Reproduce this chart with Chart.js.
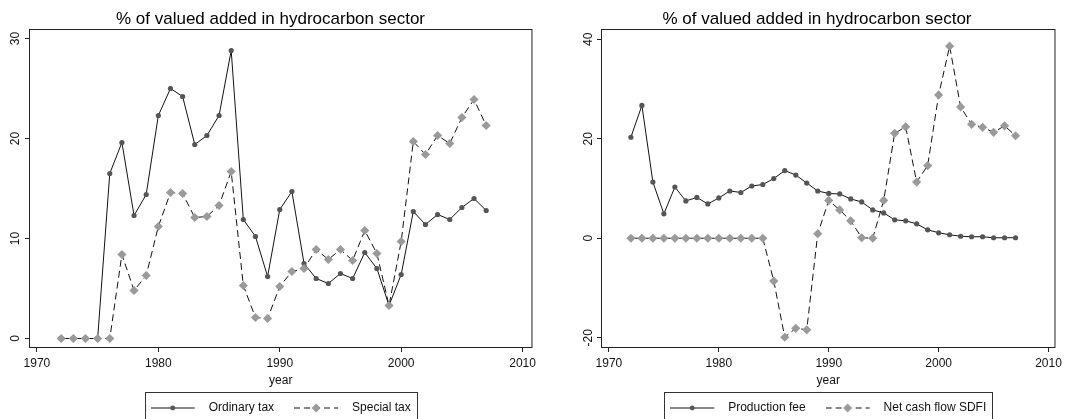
<!DOCTYPE html>
<html><head><meta charset="utf-8">
<script src="https://cdn.jsdelivr.net/npm/chart.js@4/dist/chart.umd.min.js"></script>
<style>
html,body{margin:0;padding:0;background:#fff;overflow:hidden;width:1066px;height:419px;}
#c1{position:absolute;left:0;top:0;}
#c2{position:absolute;left:540px;top:0;}
</style></head><body>
<canvas id="c1" width="540" height="424"></canvas>
<canvas id="c2" width="526" height="424"></canvas>
<script>
const years = [1972,1973,1974,1975,1976,1977,1978,1979,1980,1981,1982,1983,1984,1985,1986,1987,1988,1989,1990,1991,1992,1993,1994,1995,1996,1997,1998,1999,2000,2001,2002,2003,2004,2005,2006,2007];
const ordinaryTax = [0,0,0,0,16.5,19.6,12.3,14.4,22.3,25.0,24.2,19.4,20.3,22.3,28.8,11.9,10.2,6.2,12.9,14.7,7.5,6.0,5.5,6.5,6.0,8.6,7.0,3.3,6.4,12.7,11.4,12.4,11.9,13.1,14.0,12.8];
const specialTax = [0,0,0,0,0,8.4,4.8,6.3,11.2,14.6,14.5,12.1,12.2,13.3,16.7,5.3,2.1,2.0,5.2,6.7,7.0,8.9,7.9,8.9,7.8,10.8,8.5,3.3,9.7,19.7,18.4,20.3,19.5,22.1,23.9,21.3];
const productionFee = [20.3,26.7,11.3,4.9,10.3,7.5,8.2,6.9,8.1,9.5,9.2,10.5,10.8,12.0,13.6,12.7,11.1,9.5,9.0,8.9,7.9,7.3,5.7,5.1,3.7,3.5,2.9,1.7,1.1,0.7,0.4,0.3,0.3,0.1,0.1,0.1];
const netCashFlowSDFI = [0,0,0,0,0,0,0,0,0,0,0,0,0,-8.6,-19.9,-18.1,-18.4,0.9,7.6,5.7,3.5,0.1,0.0,7.6,21.1,22.4,11.3,14.6,28.8,38.6,26.4,22.9,22.3,21.3,22.6,20.6];
const xTicks = [1970,1980,1990,2000,2010];
const yTicksLeft = [0,10,20,30];
const yTicksRight = [-20,0,20,40];
const titleText = '% of valued added in hydrocarbon sector';
const xTitle = 'year';
const leftLabels = ['Ordinary tax', 'Special tax'];
const rightLabels = ['Production fee', 'Net cash flow SDFI'];

const FONT = '"Liberation Sans", Arial, sans-serif';
const DARK = '#555555';
const LIGHT = '#9a9a9a';

function toXY(vals) { return years.map((yr, i) => ({x: yr, y: vals[i]})); }

function legendImage(dashed, marker) {
  const c = document.createElement('canvas');
  c.width = 52; c.height = 12;
  const g = c.getContext('2d');
  g.strokeStyle = '#111'; g.lineWidth = 1.2;
  if (dashed) g.setLineDash([6, 4]);
  g.beginPath(); g.moveTo(0, 6); g.lineTo(44, 6); g.stroke();
  g.setLineDash([]);
  if (marker === 'circle') {
    g.fillStyle = DARK;
    g.beginPath(); g.arc(22, 6, 2.4, 0, Math.PI * 2); g.fill();
  } else {
    g.fillStyle = LIGHT;
    g.beginPath(); g.moveTo(22, 1.5); g.lineTo(26.5, 6); g.lineTo(22, 10.5); g.lineTo(17.5, 6); g.closePath(); g.fill();
  }
  return c;
}
const imgSolid = legendImage(false, 'circle');
const imgDashed = legendImage(true, 'diamond');

const framePlugin = {
  id: 'frame',
  afterDraw(chart) {
    const {ctx, chartArea: a} = chart;
    ctx.save();
    ctx.strokeStyle = '#222'; ctx.lineWidth = 1;
    ctx.strokeRect(a.left - 0.5, a.top - 0.5, a.right - a.left + 1, a.bottom - a.top + 1);
    const lg = chart.legend;
    if (lg && lg.legendHitBoxes && lg.legendHitBoxes.length) {
      const hb = lg.legendHitBoxes;
      const last = hb[hb.length - 1];
      const l = Math.round(hb[0].left - 6);
      const r = Math.round(last.left + last.width + 6);
      ctx.strokeStyle = '#333';
      ctx.strokeRect(l + 0.5, Math.round(lg.top) + 0.5, r - l, 60);
    }
    ctx.restore();
  }
};

function makeChart(id, s1, s2, labels, yMin, yMax, yTicks, xMin, xMax, padLeft, padRight, yWidth, yPad) {
  const tickFont = {family: FONT, size: 12};
  return new Chart(document.getElementById(id), {
    type: 'line',
    data: {
      datasets: [
        {label: labels[0], data: toXY(s1), borderColor: '#111', borderWidth: 1, backgroundColor: DARK,
         pointStyle: 'circle', pointRadius: 2.6, pointBackgroundColor: DARK, pointBorderColor: DARK, pointBorderWidth: 0,
         tension: 0, fill: false, order: 2},
        {label: labels[1], data: toXY(s2), borderColor: '#111', borderWidth: 1, borderDash: [7, 4], backgroundColor: LIGHT,
         pointStyle: 'rectRot', pointRadius: 4.6, pointBackgroundColor: LIGHT, pointBorderColor: LIGHT, pointBorderWidth: 0,
         tension: 0, fill: false, order: 1}
      ]
    },
    options: {
      responsive: false, animation: false, devicePixelRatio: 1,
      layout: {padding: {left: padLeft, right: padRight, top: 0, bottom: 0}, autoPadding: false},
      plugins: {
        tooltip: {enabled: false},
        title: {display: true, text: titleText, color: '#000',
                font: {family: FONT, size: 17, weight: 'normal'}, padding: {top: 9.6, bottom: 0}},
        legend: {
          position: 'bottom', fullSize: false,
          labels: {
            usePointStyle: true, pointStyleWidth: 52, padding: 10, color: '#111',
            font: {family: FONT, size: 12},
            generateLabels: () => [
              {text: labels[0] + '   ', pointStyle: imgSolid, fillStyle: '#000', strokeStyle: '#000', lineWidth: 0, hidden: false, datasetIndex: 0, fontColor: '#111'},
              {text: labels[1], pointStyle: imgDashed, fillStyle: '#000', strokeStyle: '#000', lineWidth: 0, hidden: false, datasetIndex: 1, fontColor: '#111'}
            ]
          }
        }
      },
      scales: {
        x: {
          type: 'linear', min: xMin, max: xMax,
          afterBuildTicks: s => { s.ticks = xTicks.map(v => ({value: v})); },
          afterFit: s => { s.height = 45; },
          grid: {display: true, drawOnChartArea: false, drawTicks: true, tickLength: 5, color: '#222'},
          border: {display: false},
          ticks: {padding: 4, font: tickFont, color: '#111', maxRotation: 0, minRotation: 0, autoSkip: false,
                  callback: v => String(v)},
          title: {display: true, text: xTitle, color: '#111', font: {family: FONT, size: 12}, padding: {top: 0, bottom: 4.5}}
        },
        y: {
          type: 'linear', min: yMin, max: yMax,
          afterBuildTicks: s => { s.ticks = yTicks.map(v => ({value: v})); },
          afterFit: s => { s.width = yWidth; },
          grid: {display: true, drawOnChartArea: false, drawTicks: true, tickLength: 5, color: '#222'},
          border: {display: false},
          ticks: {padding: yPad, font: tickFont, color: '#111', minRotation: 90, maxRotation: 90, crossAlign: 'center',
                  autoSkip: false, callback: v => String(v)}
        }
      }
    },
    plugins: [framePlugin]
  });
}

makeChart('c1', ordinaryTax, specialTax, leftLabels, -0.85, 30.85, yTicksLeft, 1969.43, 2010.73, 4, 3, 26, 3);
makeChart('c2', productionFee, netCashFlowSDFI, rightLabels, -21.86, 41.86, yTicksRight, 1969.37, 2010.54, 36, 8, 26, 0);
</script>
</body></html>
